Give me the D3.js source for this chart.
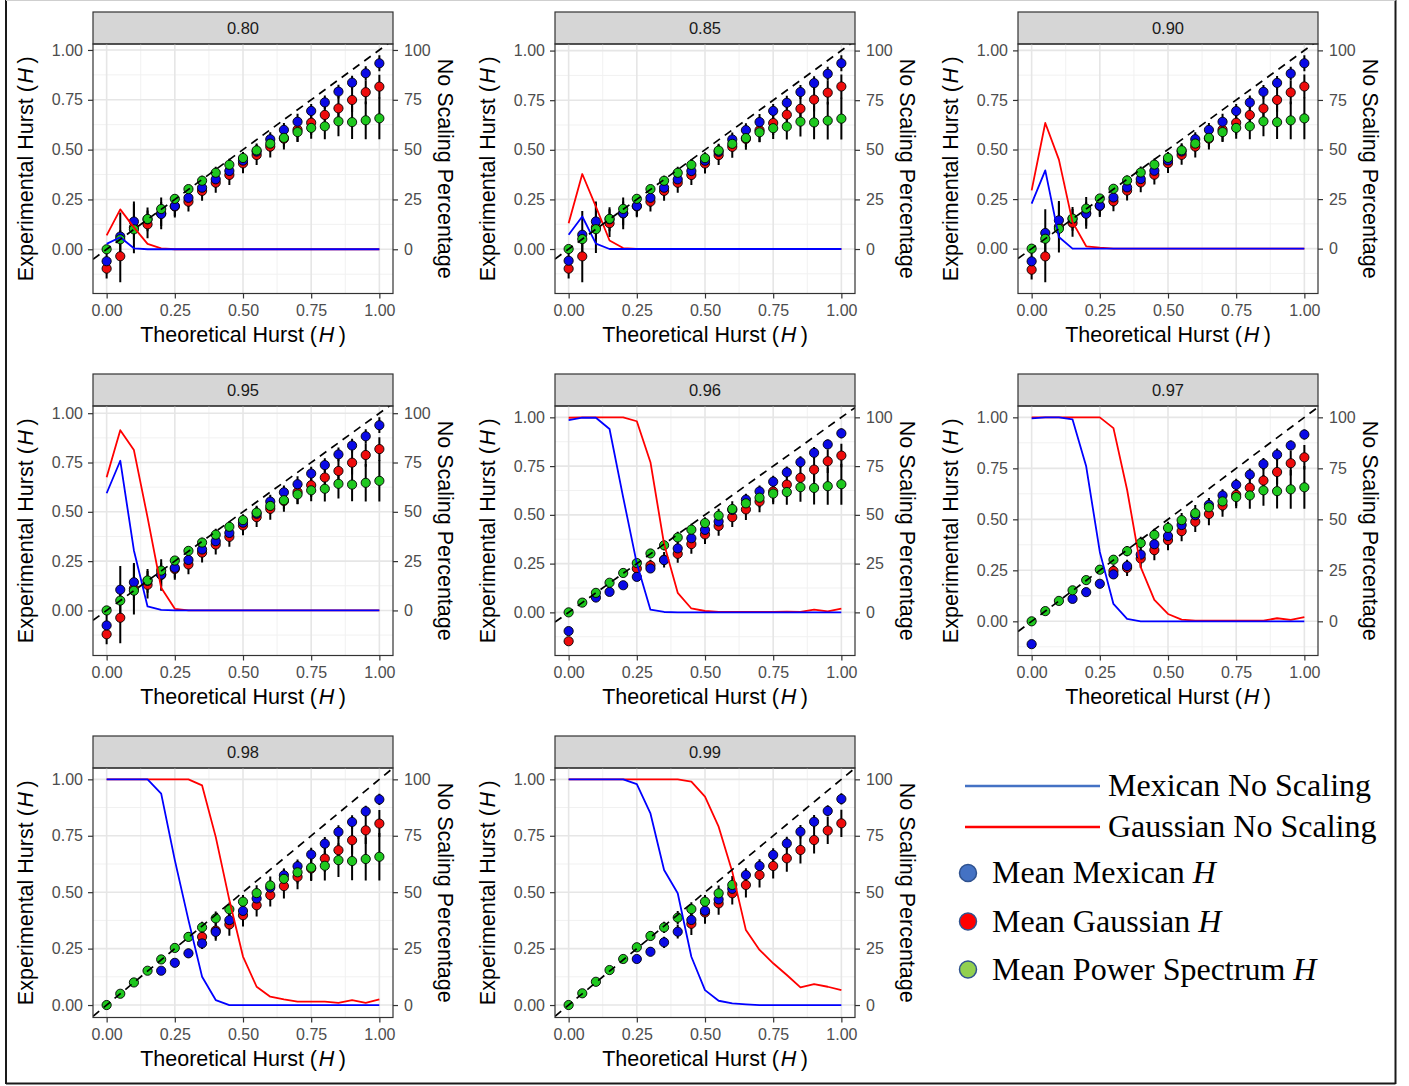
<!DOCTYPE html>
<html>
<head>
<meta charset="utf-8">
<script src="https://cdn.jsdelivr.net/npm/d3@7"></script>
<style>
  body { margin: 0; background: #fff; }
  svg { display: block; }
</style>
</head>
<body>
<script>
// Theoretical Hurst exponents used in the simulations
const hurst = [0, 0.05, 0.1, 0.15, 0.2, 0.25, 0.3, 0.35, 0.4, 0.45, 0.5, 0.55, 0.6, 0.65, 0.7, 0.75, 0.8, 0.85, 0.9, 0.95, 1];

// Facet labels (scaling threshold)
const thresholds = ["0.80", "0.85", "0.90", "0.95", "0.96", "0.97", "0.98", "0.99"];

// Power spectrum estimates (same method in every facet)
const powH   = [0.000, 0.050, 0.100, 0.152, 0.202, 0.253, 0.302, 0.344, 0.384, 0.424, 0.458, 0.496, 0.530, 0.559, 0.588, 0.609, 0.617, 0.642, 0.638, 0.647, 0.657];
const powH99 = [0.000, 0.052, 0.103, 0.155, 0.204, 0.256, 0.306, 0.344, 0.387, 0.425, 0.458, 0.495, 0.532, null, null, null, null, null, null, null, null];
const powSd  = [0.005, 0.005, 0.005, 0.005, 0.010, 0.015, 0.020, 0.025, 0.030, 0.030, 0.030, 0.035, 0.040, 0.045, 0.050, 0.055, 0.065, 0.075, 0.085, 0.095, 0.105];

// Spread of the wavelet estimates
const mexSdLow  = [0.060, 0.120, 0.090, 0.060, 0.060, 0.050, 0.045, 0.040, 0.040, 0.040, 0.035, 0.035, 0.035, 0.035, 0.040, 0.035, 0.035, 0.035, 0.035, 0.035, 0.040];
const gauSdLow  = [0.050, 0.130, 0.130, 0.070, 0.080, 0.055, 0.050, 0.050, 0.050, 0.050, 0.050, 0.050, 0.055, 0.055, 0.060, 0.060, 0.060, 0.060, 0.060, 0.060, 0.060];
const mexSdHigh = [0.000, 0.000, 0.005, 0.005, 0.010, 0.015, 0.020, 0.025, 0.030, 0.030, 0.030, 0.030, 0.030, 0.030, 0.030, 0.030, 0.030, 0.030, 0.030, 0.025, 0.025];
const gauSdHigh = [0.015, 0.000, 0.000, 0.000, 0.000, 0.020, 0.030, 0.040, 0.045, 0.050, 0.050, 0.050, 0.050, 0.055, 0.055, 0.055, 0.060, 0.060, 0.060, 0.060, 0.060];

// Mean Mexican hat / Gaussian wavelet estimates per threshold
const mexH80 = [-0.060, 0.064, 0.139, 0.150, 0.177, 0.217, 0.258, 0.309, 0.351, 0.393, 0.445, 0.490, 0.552, 0.599, 0.640, 0.694, 0.737, 0.791, 0.836, 0.883, 0.933];
const gauH80 = [-0.097, -0.035, 0.110, 0.125, 0.180, 0.215, 0.239, 0.293, 0.334, 0.373, 0.431, 0.473, 0.515, 0.555, 0.600, 0.635, 0.674, 0.707, 0.749, 0.788, 0.816];
const mexH85 = [-0.059, 0.072, 0.139, 0.150, 0.180, 0.217, 0.258, 0.309, 0.351, 0.393, 0.445, 0.490, 0.552, 0.599, 0.640, 0.696, 0.737, 0.791, 0.836, 0.883, 0.936];
const gauH85 = [-0.099, -0.037, 0.110, 0.130, 0.180, 0.215, 0.239, 0.293, 0.334, 0.373, 0.431, 0.473, 0.515, 0.555, 0.599, 0.635, 0.677, 0.707, 0.753, 0.788, 0.819];
const mexH90 = [-0.064, 0.079, 0.143, 0.150, 0.176, 0.217, 0.258, 0.309, 0.351, 0.393, 0.445, 0.490, 0.552, 0.599, 0.640, 0.694, 0.737, 0.791, 0.836, 0.883, 0.935];
const gauH90 = [-0.106, -0.039, 0.110, 0.130, 0.180, 0.215, 0.239, 0.293, 0.334, 0.373, 0.431, 0.473, 0.515, 0.555, 0.600, 0.635, 0.674, 0.707, 0.750, 0.788, 0.818];
const mexH95 = [-0.076, 0.105, 0.143, 0.150, 0.182, 0.216, 0.256, 0.309, 0.351, 0.393, 0.445, 0.490, 0.552, 0.599, 0.640, 0.694, 0.737, 0.791, 0.836, 0.883, 0.939];
const gauH95 = [-0.121, -0.037, 0.110, 0.130, 0.180, 0.210, 0.233, 0.293, 0.334, 0.373, 0.431, 0.473, 0.515, 0.555, 0.600, 0.635, 0.674, 0.707, 0.749, 0.788, 0.818];
const mexH96 = [-0.096, null, 0.076, 0.105, 0.139, 0.182, 0.225, 0.268, 0.328, 0.380, 0.423, 0.466, 0.525, 0.578, 0.620, 0.670, 0.718, 0.770, 0.818, 0.861, 0.918];
const gauH96 = [-0.148, null, null, null, null, 0.225, 0.240, 0.270, 0.300, 0.350, 0.400, 0.443, 0.488, 0.528, 0.568, 0.620, 0.655, 0.690, 0.732, 0.775, 0.804];
const mexH97 = [-0.112, null, null, 0.110, 0.143, 0.184, 0.230, 0.271, 0.327, 0.378, 0.418, 0.472, 0.520, 0.571, 0.617, 0.669, 0.719, 0.771, 0.817, 0.862, 0.916];
const gauH97 = [null, null, null, null, null, null, 0.247, 0.262, 0.308, 0.349, 0.398, 0.442, 0.488, 0.526, 0.568, 0.620, 0.655, 0.690, 0.732, 0.775, 0.804];
const mexH98 = [null, null, null, null, 0.152, 0.187, 0.229, 0.273, 0.324, 0.376, 0.417, 0.472, 0.520, 0.575, 0.615, 0.667, 0.715, 0.767, 0.811, 0.858, 0.911];
const gauH98 = [null, null, null, null, null, null, null, 0.302, 0.330, 0.357, 0.398, 0.442, 0.487, 0.527, 0.568, 0.605, 0.649, 0.686, 0.730, 0.774, 0.804];
const mexH99 = [null, null, null, null, null, 0.204, 0.236, 0.278, 0.325, 0.377, 0.418, 0.468, 0.515, 0.576, 0.616, 0.665, 0.716, 0.768, 0.812, 0.860, 0.913];
const gauH99 = [null, null, null, null, null, null, null, null, null, 0.360, 0.410, 0.450, 0.495, 0.532, 0.576, 0.616, 0.650, 0.687, 0.731, 0.773, 0.805];

// Percentage of series without scaling, per threshold
const mexNo80 = [2.7, 6.0, 0.5, 0, 0, 0, 0, 0, 0, 0, 0, 0, 0, 0, 0, 0, 0, 0, 0, 0, 0];
const gauNo80 = [7.0, 20.0, 11.0, 2.7, 0.5, 0, 0, 0, 0, 0, 0, 0, 0, 0, 0, 0, 0, 0, 0, 0, 0];
const mexNo85 = [7.2, 16.4, 2.7, 0, 0, 0, 0, 0, 0, 0, 0, 0, 0, 0, 0, 0, 0, 0, 0, 0, 0];
const gauNo85 = [13.0, 37.8, 21.4, 4.3, 0.5, 0, 0, 0, 0, 0, 0, 0, 0, 0, 0, 0, 0, 0, 0, 0, 0];
const mexNo90 = [22.7, 39.5, 5.9, 0, 0, 0, 0, 0, 0, 0, 0, 0, 0, 0, 0, 0, 0, 0, 0, 0, 0];
const gauNo90 = [29.4, 63.4, 44.9, 13.4, 1.2, 0.5, 0, 0, 0, 0, 0, 0, 0, 0, 0, 0, 0, 0, 0, 0, 0];
const mexNo95 = [59.4, 75.9, 30.4, 2.0, 0.3, 0, 0, 0, 0, 0, 0, 0, 0, 0, 0, 0, 0, 0, 0, 0, 0];
const gauNo95 = [67.5, 91.4, 81.3, 47.2, 11.5, 0.8, 0, 0, 0, 0, 0, 0, 0, 0, 0, 0, 0, 0, 0, 0, 0];
const mexNo96 = [98.6, 99.8, 99.8, 94.0, 59.0, 25.0, 1.4, 0.2, 0, 0, 0, 0, 0, 0, 0, 0, 0, 0, 0, 0, 0];
const gauNo96 = [99.8, 100, 100, 100, 100, 98.0, 77.0, 35.0, 10.0, 2.0, 0.7, 0.2, 0.2, 0.2, 0.2, 0.2, 0.4, 0.2, 1.4, 0.5, 1.9];
const mexNo97 = [99.5, 100, 100, 99.0, 76.0, 34.0, 8.5, 1.2, 0, 0, 0, 0, 0, 0, 0, 0, 0, 0, 0, 0, 0];
const gauNo97 = [100, 100, 100, 100, 100, 100, 94.7, 64.5, 26.6, 10.5, 3.6, 0.8, 0.3, 0.3, 0.3, 0.3, 0.3, 0.3, 1.5, 0.7, 2.0];
const mexNo98 = [100, 100, 100, 100, 93.7, 64.2, 37.6, 12.5, 2.2, 0, 0, 0, 0, 0, 0, 0, 0, 0, 0, 0, 0];
const gauNo98 = [100, 100, 100, 100, 100, 100, 100, 97.3, 74.5, 46.5, 21.5, 8.1, 3.7, 2.5, 1.5, 1.5, 1.5, 1.0, 2.2, 1.0, 2.5];
const mexNo99 = [100, 100, 100, 100, 100, 97.9, 84.9, 59.8, 49.5, 21.4, 6.6, 1.9, 0.7, 0.3, 0, 0, 0, 0, 0, 0, 0];
const gauNo99 = [100, 100, 100, 100, 100, 100, 100, 100, 100, 99.0, 92.3, 79.0, 59.1, 33.2, 24.4, 18.5, 13.3, 7.8, 9.3, 8.1, 6.6];

// Axis ticks
const hTicks = [0, 0.25, 0.5, 0.75, 1];
const pctTicks = [0, 25, 50, 75, 100];

// Facet table assembled from the arrays above
const facets = [
  { label: thresholds[0], mex: mexH80, gau: gauH80, pow: powH,   mexSd: mexSdLow,  gauSd: gauSdLow,  mexNo: mexNo80, gauNo: gauNo80 },
  { label: thresholds[1], mex: mexH85, gau: gauH85, pow: powH,   mexSd: mexSdLow,  gauSd: gauSdLow,  mexNo: mexNo85, gauNo: gauNo85 },
  { label: thresholds[2], mex: mexH90, gau: gauH90, pow: powH,   mexSd: mexSdLow,  gauSd: gauSdLow,  mexNo: mexNo90, gauNo: gauNo90 },
  { label: thresholds[3], mex: mexH95, gau: gauH95, pow: powH,   mexSd: mexSdLow,  gauSd: gauSdLow,  mexNo: mexNo95, gauNo: gauNo95 },
  { label: thresholds[4], mex: mexH96, gau: gauH96, pow: powH,   mexSd: mexSdHigh, gauSd: gauSdHigh, mexNo: mexNo96, gauNo: gauNo96 },
  { label: thresholds[5], mex: mexH97, gau: gauH97, pow: powH,   mexSd: mexSdHigh, gauSd: gauSdHigh, mexNo: mexNo97, gauNo: gauNo97 },
  { label: thresholds[6], mex: mexH98, gau: gauH98, pow: powH,   mexSd: mexSdHigh, gauSd: gauSdHigh, mexNo: mexNo98, gauNo: gauNo98 },
  { label: thresholds[7], mex: mexH99, gau: gauH99, pow: powH99, mexSd: mexSdHigh, gauSd: gauSdHigh, mexNo: mexNo99, gauNo: gauNo99 }
];

const W = 1409, H = 1086;
const colLeft = [93, 555, 1018];
const rowTop = [44, 406, 768];
const plotW = 300, plotH = 249.5, stripH = 32;

const lineBlue = "#0000ff", lineRed = "#ff0000";
const ptBlue = "#0a0ae6", ptRed = "#ee0c0c", ptGreen = "#1ec81e";

const svg = d3.select("body").append("svg")
  .attr("width", W).attr("height", H)
  .style("font-family", "'Liberation Sans', Arial, Helvetica, sans-serif");

svg.append("rect").attr("width", W).attr("height", H).attr("fill", "#fff");

const defs = svg.append("defs");

function hTitle(sel) {
  sel.append("tspan").text("(\u200A");
  sel.append("tspan").attr("font-style", "italic").text("H");
  sel.append("tspan").text("\u2009)");
}

facets.forEach((f, i) => {
  const col = i % 3, row = Math.floor(i / 3);
  const left = colLeft[col], top = rowTop[row];
  const right = left + plotW, bottom = top + plotH;

  const x = d3.scaleLinear().domain([-0.05, 1.05]).range([left, right]);

  // free y scale per facet, expanded by 5% like the source plot
  const vals = [];
  [[f.mex, f.mexSd], [f.gau, f.gauSd], [f.pow, powSd]].forEach(([m, s]) => {
    m.forEach((v, k) => { if (v != null) vals.push(v - s[k], v + s[k]); });
  });
  f.mexNo.forEach(v => vals.push(v / 100));
  f.gauNo.forEach(v => vals.push(v / 100));
  const [lo, hi] = d3.extent(vals);
  const pad = (hi - lo) * 0.05;
  const y = d3.scaleLinear().domain([lo - pad, hi + pad]).range([bottom, top]);
  const yPct = d3.scaleLinear().domain([(lo - pad) * 100, (hi + pad) * 100]).range([bottom, top]);

  const g = svg.append("g");

  // strip
  g.append("rect").attr("x", left).attr("y", top - stripH).attr("width", plotW).attr("height", stripH)
    .attr("fill", "#d6d6d6").attr("stroke", "#333").attr("stroke-width", 1.2);
  g.append("text").attr("x", (left + right) / 2).attr("y", top - stripH / 2).attr("dy", "0.35em")
    .attr("text-anchor", "middle").attr("font-size", 16.5).attr("fill", "#1a1a1a").text(f.label);

  const clipId = "clip" + i;
  defs.append("clipPath").attr("id", clipId).append("rect")
    .attr("x", left).attr("y", top).attr("width", plotW).attr("height", plotH);

  const p = g.append("g").attr("clip-path", `url(#${clipId})`);

  // grid
  const [d0, d1] = y.domain();
  const yMajor = [-0.25, 0, 0.25, 0.5, 0.75, 1, 1.25].filter(v => v >= d0 && v <= d1);
  const yMinor = [-0.125, 0.125, 0.375, 0.625, 0.875, 1.125].filter(v => v >= d0 && v <= d1);
  const xMinor = [0.125, 0.375, 0.625, 0.875];
  p.selectAll(".ymin").data(yMinor).join("line")
    .attr("x1", left).attr("x2", right).attr("y1", d => y(d)).attr("y2", d => y(d))
    .attr("stroke", "#f1f1f1").attr("stroke-width", 1);
  p.selectAll(".xmin").data(xMinor).join("line")
    .attr("y1", top).attr("y2", bottom).attr("x1", d => x(d)).attr("x2", d => x(d))
    .attr("stroke", "#f1f1f1").attr("stroke-width", 1);
  p.selectAll(".ymaj").data(yMajor).join("line")
    .attr("x1", left).attr("x2", right).attr("y1", d => y(d)).attr("y2", d => y(d))
    .attr("stroke", "#e6e6e6").attr("stroke-width", 1.6);
  p.selectAll(".xmaj").data(hTicks).join("line")
    .attr("y1", top).attr("y2", bottom).attr("x1", d => x(d)).attr("x2", d => x(d))
    .attr("stroke", "#e6e6e6").attr("stroke-width", 1.6);

  // error bars
  const series = [
    { m: f.gau, s: f.gauSd, c: ptRed },
    { m: f.mex, s: f.mexSd, c: ptBlue },
    { m: f.pow, s: powSd, c: ptGreen }
  ];
  series.forEach(sr => {
    const d = hurst.map((h, k) => ({ h, v: sr.m[k], s: sr.s[k] })).filter(o => o.v != null && o.s > 0);
    p.append("g").selectAll("line").data(d).join("line")
      .attr("x1", o => x(o.h)).attr("x2", o => x(o.h))
      .attr("y1", o => y(o.v - o.s)).attr("y2", o => y(o.v + o.s))
      .attr("stroke", "#000").attr("stroke-width", 2);
  });

  // mean points
  series.forEach(sr => {
    const d = hurst.map((h, k) => ({ h, v: sr.m[k] })).filter(o => o.v != null);
    p.append("g").selectAll("circle").data(d).join("circle")
      .attr("cx", o => x(o.h)).attr("cy", o => y(o.v)).attr("r", 4.6)
      .attr("fill", sr.c).attr("stroke", "#000").attr("stroke-width", 0.9);
  });

  // no-scaling percentage lines (secondary axis)
  const line = d3.line().x(o => x(o.h)).y(o => yPct(o.v));
  [[f.gauNo, lineRed], [f.mexNo, lineBlue]].forEach(([arr, c]) => {
    p.append("path").datum(hurst.map((h, k) => ({ h, v: arr[k] })))
      .attr("d", line).attr("fill", "none").attr("stroke", c).attr("stroke-width", 1.8)
      .attr("stroke-linejoin", "round");
  });

  // identity line
  p.append("line")
    .attr("x1", x(-0.05)).attr("y1", y(-0.05)).attr("x2", x(1.05)).attr("y2", y(1.05))
    .attr("stroke", "#000").attr("stroke-width", 1.7).attr("stroke-dasharray", "8,6");

  // panel border
  g.append("rect").attr("x", left).attr("y", top).attr("width", plotW).attr("height", plotH)
    .attr("fill", "none").attr("stroke", "#333").attr("stroke-width", 1.2);

  // axes
  const styleAxis = a => {
    a.select(".domain").remove();
    a.selectAll(".tick line").attr("stroke", "#333").attr("stroke-width", 1.2);
    a.selectAll(".tick text").attr("fill", "#4d4d4d").attr("font-size", 16);
    a.attr("font-family", null);
  };
  g.append("g").attr("transform", `translate(${left},0)`)
    .call(d3.axisLeft(y).tickValues(hTicks).tickFormat(d3.format(".2f")).tickSize(5).tickPadding(5))
    .call(styleAxis);
  g.append("g").attr("transform", `translate(${right},0)`)
    .call(d3.axisRight(yPct).tickValues(pctTicks).tickFormat(d3.format("d")).tickSize(5).tickPadding(6))
    .call(styleAxis);
  g.append("g").attr("transform", `translate(0,${bottom})`)
    .call(d3.axisBottom(x).tickValues(hTicks).tickFormat(d3.format(".2f")).tickSize(5).tickPadding(6.5))
    .call(styleAxis);

  // axis titles
  const xt = g.append("text").attr("x", (left + right) / 2).attr("y", bottom + 48)
    .attr("text-anchor", "middle").attr("font-size", 21.5).attr("fill", "#000");
  xt.append("tspan").text("Theoretical Hurst ");
  hTitle(xt);

  const yt = g.append("text")
    .attr("transform", `translate(${left - 60},${(top + bottom) / 2}) rotate(-90)`)
    .attr("text-anchor", "middle").attr("font-size", 21.5).attr("fill", "#000");
  yt.append("tspan").text("Experimental Hurst ");
  hTitle(yt);

  g.append("text")
    .attr("transform", `translate(${right + 45},${(top + bottom) / 2}) rotate(90)`)
    .attr("text-anchor", "middle").attr("font-size", 21.5).attr("fill", "#000")
    .text("No Scaling Percentage");
});

// legend
const legendLines = [
  { label: "Mexican No Scaling", color: "#4472c4" },
  { label: "Gaussian No Scaling", color: "#ff0000" }
];
const legendDots = [
  { label: "Mean Mexican ", color: "#4472c4" },
  { label: "Mean Gaussian ", color: "#ff0000" },
  { label: "Mean Power Spectrum ", color: "#92d050" }
];
const lg = svg.append("g")
  .attr("font-family", "'Liberation Serif', 'Times New Roman', serif")
  .attr("font-size", 32).attr("fill", "#000");
const lineRows = [786, 827];
legendLines.forEach((d, k) => {
  lg.append("line").attr("x1", 965).attr("x2", 1100).attr("y1", lineRows[k]).attr("y2", lineRows[k])
    .attr("stroke", d.color).attr("stroke-width", 2.6);
  lg.append("text").attr("x", 1108).attr("y", lineRows[k] + 10).text(d.label);
});
const dotRows = [873, 921.5, 969.5];
legendDots.forEach((d, k) => {
  lg.append("circle").attr("cx", 968).attr("cy", dotRows[k]).attr("r", 8.5)
    .attr("fill", d.color).attr("stroke", "#2f528f").attr("stroke-width", 1.5);
  const t = lg.append("text").attr("x", 992).attr("y", dotRows[k] + 10);
  t.append("tspan").text(d.label);
  t.append("tspan").attr("font-style", "italic").text("H");
});

// outer frame
const frame = svg.append("g").attr("stroke", "#1a1a1a").attr("stroke-width", 2);
frame.append("line").attr("x1", 6).attr("x2", 6).attr("y1", 0).attr("y2", 1084);
frame.append("line").attr("x1", 1395.5).attr("x2", 1395.5).attr("y1", 0).attr("y2", 1084);
frame.append("line").attr("x1", 6).attr("x2", 1395.5).attr("y1", 1083.5).attr("y2", 1083.5);
svg.append("line").attr("x1", 6).attr("x2", 1395.5).attr("y1", 0.5).attr("y2", 0.5)
  .attr("stroke", "#cfcfcf").attr("stroke-width", 1);
</script>
</body>
</html>
